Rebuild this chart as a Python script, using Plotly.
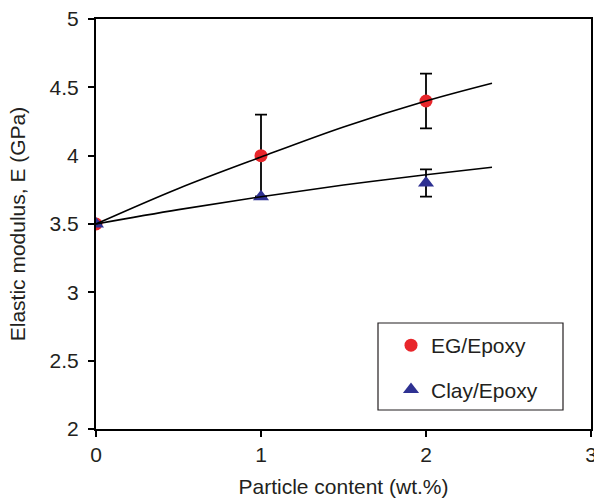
import plotly.graph_objects as go

# Measured elastic modulus (GPa) vs particle loading (wt.%)
content = [0, 1, 2]
eg_modulus = [3.5, 4.0, 4.4]
eg_err = [0, 0.3, 0.2]
clay_modulus = [3.5, 3.7, 3.8]
clay_err = [0, 0, 0.1]

# Fitted trend curves
fit_x = [0, 0.5, 1.0, 1.5, 2.0, 2.4]
eg_fit = [3.5, 3.76, 3.99, 4.21, 4.40, 4.53]
clay_fit = [3.5, 3.605, 3.70, 3.785, 3.86, 3.915]

RED = "#e8262b"
BLUE = "#2e3192"
INK = "#231f20"
FONT = "Liberation Sans, Arial, sans-serif"

fig = go.Figure()

fig.add_trace(go.Scatter(
    x=content, y=eg_modulus, mode="markers", name="EG/Epoxy",
    legendgroup="a",
    marker=dict(symbol="circle", size=13, color=RED),
    error_y=dict(type="data", array=eg_err, visible=True,
                 color="black", thickness=1.8, width=6),
))
fig.add_trace(go.Scatter(
    x=content, y=clay_modulus, mode="markers", name="Clay/Epoxy",
    legendgroup="b",
    marker=dict(symbol="triangle-up", size=14, color=BLUE),
    error_y=dict(type="data", array=clay_err, visible=True,
                 color="black", thickness=1.8, width=6),
))
for fy in (eg_fit, clay_fit):
    fig.add_trace(go.Scatter(
        x=fit_x, y=fy, mode="lines", showlegend=False, hoverinfo="skip",
        line=dict(color="black", width=1.6, shape="spline"),
    ))

axis_common = dict(
    showgrid=False, zeroline=False, showline=True, linecolor="black",
    linewidth=2, mirror=True, ticks="outside", ticklen=6, tickwidth=1.5,
    tickcolor="black", automargin=False, ticklabeloverflow="allow",
    tickfont=dict(family=FONT, size=21, color=INK),
)
fig.update_xaxes(range=[0, 3], tickvals=[0, 1, 2, 3], ticklabelstandoff=0,
                 title=dict(text="Particle content (wt.%)",
                            font=dict(family=FONT, size=21, color=INK),
                            standoff=21),
                 **axis_common)
fig.update_yaxes(range=[2, 5], tickvals=[2, 2.5, 3, 3.5, 4, 4.5, 5],
                 ticktext=["2", "2.5", "3", "3.5", "4", "4.5", "5"],
                 ticklabelstandoff=5,
                 title=dict(text="Elastic modulus, E (GPa)",
                            font=dict(family=FONT, size=21, color=INK),
                            standoff=18),
                 **axis_common)

# Legend frame
fig.add_shape(type="rect", xref="paper", yref="paper",
              x0=(378 - 96) / 495, x1=(563 - 96) / 495,
              y0=(429 - 410) / 410, y1=(429 - 323) / 410,
              line=dict(color=INK, width=1.2), fillcolor="white",
              layer="below")

fig.update_layout(
    width=594, height=498,
    margin=dict(l=96, r=3, t=19, b=69, autoexpand=False),
    paper_bgcolor="white", plot_bgcolor="white",
    showlegend=True,
    legend=dict(x=(391 - 96) / 495, y=(429 - 325) / 410,
                xanchor="left", yanchor="top",
                bgcolor="rgba(0,0,0,0)", borderwidth=0,
                font=dict(family=FONT, size=21, color=INK),
                tracegroupgap=14, traceorder="grouped"),
)

fig.write_html("out.html")
